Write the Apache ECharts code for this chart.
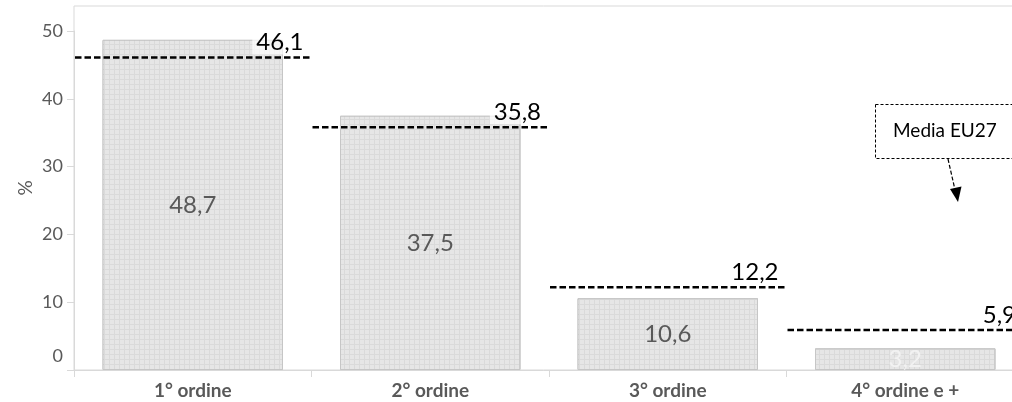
<!DOCTYPE html>
<html>
<head>
<meta charset="utf-8">
<script src="https://cdn.jsdelivr.net/npm/echarts@6/dist/echarts.min.js"></script>
<style>
  html, body { margin: 0; padding: 0; background: #fff; }
  #chart { width: 1012px; height: 402px; }
</style>
</head>
<body>
<div id="chart"></div>
<script>
// Birth order shares (%) with the EU27 average for each order
const categories = ['1° ordine', '2° ordine', '3° ordine', '4° ordine e +'];
const shareValues = [48.7, 37.5, 10.6, 3.2];
const eu27Values = [46.1, 35.8, 12.2, 5.9];
const yTicks = { min: 0, max: 50, interval: 10 };

const FONT = 'Lato, "Open Sans", sans-serif';
const fmt = v => String(v).replace('.', ',');

const chart = echarts.init(document.getElementById('chart'), null, { renderer: 'canvas' });

const barData = shareValues.map(v => (v < 5
  ? { value: v, label: { color: '#f2f2f2' } }
  : v));

const option = {
  animation: false,
  backgroundColor: '#ffffff',
  grid: [
    { left: 74, top: 31, width: 950, bottom: 32, outerBoundsMode: 'none', containLabel: false },
    { left: 74, top: 6, width: 950, bottom: 32, outerBoundsMode: 'none', containLabel: false,
      show: true, borderColor: '#d9d9d9', borderWidth: 1, backgroundColor: 'transparent' }
  ],
  xAxis: [
    {
      type: 'category',
      gridIndex: 0,
      data: categories,
      boundaryGap: true,
      axisLine: { lineStyle: { color: '#d9d9d9', width: 1 } },
      axisTick: { show: true, length: 7, lineStyle: { color: '#d9d9d9' } },
      axisLabel: { color: '#595959', fontFamily: FONT, fontWeight: 'bold', fontSize: 19, margin: 11 }
    },
    { type: 'value', gridIndex: 1, show: false, min: 0, max: 1 }
  ],
  yAxis: [
    {
      type: 'value',
      gridIndex: 0,
      min: yTicks.min,
      max: yTicks.max,
      interval: yTicks.interval,
      axisLine: { show: true, lineStyle: { color: '#d9d9d9' } },
      axisTick: { show: true, inside: false, length: 7, lineStyle: { color: '#d9d9d9' } },
      splitLine: { show: false },
      axisLabel: {
        color: '#595959', fontFamily: FONT, fontSize: 18, margin: 11,
        formatter: v => (v === 0 ? '{z|0}' : String(v)),
        rich: { z: { color: '#595959', fontFamily: FONT, fontSize: 18, padding: [0, 0, 28, 0] } }
      }
    },
    {
      type: 'value',
      gridIndex: 1,
      min: 0, max: 1,
      axisLine: { show: false },
      axisTick: { show: false },
      axisLabel: { show: false },
      splitLine: { show: false },
      name: '%',
      nameLocation: 'middle',
      nameRotate: 90,
      nameGap: 39,
      nameTextStyle: { color: '#595959', fontFamily: FONT, fontSize: 19 }
    }
  ],
  series: [
    {
      name: 'Quota',
      type: 'bar',
      xAxisIndex: 0,
      yAxisIndex: 0,
      data: barData,
      barWidth: '76%',
      itemStyle: {
        color: '#dadada',
        borderColor: '#c6c6c6',
        borderWidth: 1,
        decal: {
          symbol: 'rect',
          symbolSize: 1,
          color: '#e6e6e6',
          dashArrayX: [4, 1],
          dashArrayY: [4, 1],
          rotation: 0
        }
      },
      label: {
        show: true,
        position: 'inside',
        color: '#595959',
        fontFamily: FONT,
        fontSize: 24,
        formatter: p => fmt(p.value)
      },
      z: 2
    },
    {
      name: 'Media EU27',
      type: 'custom',
      xAxisIndex: 0,
      yAxisIndex: 0,
      data: eu27Values.map((v, i) => [i, v]),
      z: 5,
      renderItem: (params, api) => {
        const idx = api.value(0);
        const v = api.value(1);
        const p = api.coord([idx, v]);
        const w = api.size([1, 0])[0];
        const x1 = p[0] - w / 2;
        const x2 = p[0] + w / 2;
        return {
          type: 'group',
          children: [
            {
              type: 'line',
              shape: { x1: x1 + 1, y1: p[1], x2: x2, y2: p[1] },
              style: { stroke: '#000', lineWidth: 2.5, lineDash: [6.5, 3] }
            },
            {
              type: 'text',
              x: x2 - 6,
              y: p[1] - 3,
              style: {
                text: fmt(v),
                align: 'right',
                verticalAlign: 'bottom',
                fill: '#000',
                fontFamily: FONT,
                fontSize: 24,
                backgroundColor: 'rgba(255,255,255,0.7)',
                padding: [0, 2, 0, 4]
              }
            }
          ]
        };
      }
    }
  ],
  graphic: [
    {
      type: 'rect',
      shape: { x: 875.5, y: 104.5, width: 150, height: 54 },
      style: { fill: '#fff', stroke: '#000', lineWidth: 1, lineDash: [3, 2] },
      z: 10
    },
    {
      type: 'text',
      x: 893, y: 131,
      style: { text: 'Media EU27', fill: '#000', fontFamily: FONT, fontSize: 19, verticalAlign: 'middle', align: 'left' },
      z: 11
    },
    {
      type: 'line',
      shape: { x1: 948, y1: 159, x2: 954.6, y2: 188 },
      style: { stroke: '#000', lineWidth: 1.2, lineDash: [4, 2] },
      z: 10
    },
    {
      type: 'polygon',
      shape: { points: [[958, 202], [961.5, 186.5], [950, 189]] },
      style: { fill: '#000' },
      z: 10
    }
  ]
};

chart.setOption(option);
</script>
</body>
</html>
